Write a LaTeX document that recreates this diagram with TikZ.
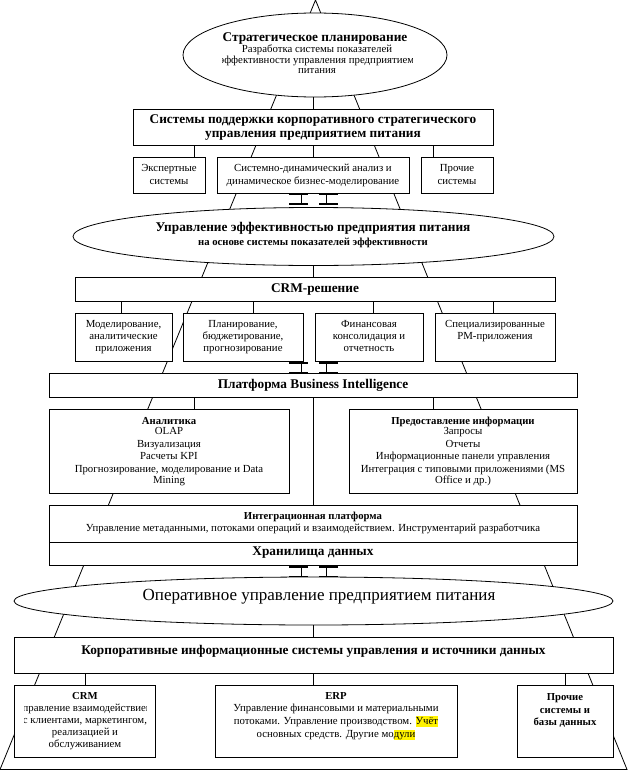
\documentclass[tikz,border=0pt]{standalone}
\usepackage{fontspec}
\setmainfont{Liberation Serif}
\usetikzlibrary{shapes.geometric}
\setlength{\fboxsep}{0pt}
\newcommand{\mybox}[5]{\node[box, minimum width={#4-#2}, minimum height={#5-#3}] (#1) at ({(#2+#4)/2},{(#3+#5)/2}) {};}
\newcommand{\mytext}[5]{\node[#2] (#1) at (#3,#4) {#5};}
\newcommand{\hlt}[1]{\colorbox{yellow}{\rule[-0.25em]{0pt}{0.95em}#1}}
\tikzset{
  ln/.style={line width=0.8pt},
  box/.style={ln, draw, fill=white, rectangle, inner sep=0pt},
  ell/.style={ln, draw, fill=white, ellipse, inner sep=0pt},
  tx/.style={inner sep=0pt, text height=0.7em, text depth=0.2em, font=\fontsize{10.8}{12}\selectfont},
  txb/.style={tx, font=\bfseries\fontsize{10.7}{12}\selectfont},
  txh/.style={tx, font=\bfseries\fontsize{13.3}{14}\selectfont},
  txl/.style={tx, font=\fontsize{17}{18}\selectfont},
  bar/.style={line width=1.3pt},
  jn/.pic={
    \draw[bar] (-24,0)--(-5,0) (-24,10)--(-5,10) (6,0)--(25,0) (6,10)--(25,10);
    \draw[ln] (-12,0)--(-12,10) (13,0)--(13,10);
  }
}
\begin{document}
\begin{tikzpicture}[x=1pt,y=-1pt]
\useasboundingbox (0,0) rectangle (627,771);
\fill[white] (0,0) rectangle (627,771);
% pyramid outline
\coordinate (apex) at (315.5,0);
\coordinate (bl) at (0,769.5);
\coordinate (br) at (627,769.5);
\draw[ln] (apex) -- (bl) -- (br) -- cycle;
% x positions of connectors
\coordinate (m) at (313.5,0);
\coordinate (xa) at (194,0);
\coordinate (xb) at (433,0);
\coordinate (xf1) at (121,0);
\coordinate (xf2) at (253,0);
\coordinate (xf3) at (373,0);
\coordinate (xf4) at (493,0);
\coordinate (xc1) at (85,0);
\coordinate (xc3) at (565,0);

% ---------- strategic level
\node[ell, minimum width=264, minimum height=84] (e1) at (315,55) {};
\mytext{e1a}{txh}{315}{39}{Стратегическое планирование}
\begin{scope}
\clip (222,43) rectangle (412,80);
\mytext{e1b}{tx}{317}{50}{Разработка системы показателей}
\mytext{e1c}{tx}{317}{61}{эффективности управления предприятием}
\mytext{e1d}{tx}{317}{71}{питания}
\end{scope}

\mybox{b1}{133}{109}{493}{145}
\mytext{b1a}{txh}{313}{121}{Системы поддержки корпоративного стратегического}
\mytext{b1b}{txh}{313}{135}{управления предприятием питания}
\draw[ln] (m |- e1.south) -- (m |- b1.north);

\mybox{s1}{133}{157}{205}{193}
\mytext{s1a}{tx}{169}{169}{Экспертные}
\mytext{s1b}{tx}{169}{182}{системы}
\mybox{s2}{217}{157}{409}{193}
\mytext{s2a}{tx}{313}{169}{Системно-динамический анализ и}
\mytext{s2b}{tx}{313}{182}{динамическое бизнес-моделирование}
\mybox{s3}{421}{157}{493}{193}
\mytext{s3a}{tx}{457}{169}{Прочие}
\mytext{s3b}{tx}{457}{182}{системы}
\draw[ln] (xa |- b1.south) -- (xa |- s1.north);
\draw[ln] (m |- b1.south) -- (m |- s2.north);
\draw[ln] (xb |- b1.south) -- (xb |- s3.north);

\pic at (313,194) {jn};

% ---------- performance management level
\node[ell, minimum width=481, minimum height=58] (e2) at (313.5,236.5) {};
\mytext{e2a}{txh}{313}{229}{Управление эффективностью предприятия питания}
\mytext{e2b}{txb}{313}{243}{на основе системы показателей эффективности}

\mybox{crm}{75}{277}{555}{301}
\mytext{crma}{txh}{315}{289.5}{CRM-решение}
\draw[ln] (m |- e2.south) -- (m |- crm.north);

\mybox{f1}{75}{313}{172}{361}
\mytext{f1a}{tx}{123.5}{325}{Моделирование,}
\mytext{f1b}{tx}{123.5}{337}{аналитические}
\mytext{f1c}{tx}{123.5}{349}{приложения}
\mybox{f2}{183}{313}{303}{361}
\mytext{f2a}{tx}{243}{325}{Планирование,}
\mytext{f2b}{tx}{243}{337}{бюджетирование,}
\mytext{f2c}{tx}{243}{349}{прогнозирование}
\mybox{f3}{315}{313}{423}{361}
\mytext{f3a}{tx}{369}{325}{Финансовая}
\mytext{f3b}{tx}{369}{337}{консолидация и}
\mytext{f3c}{tx}{369}{349}{отчетность}
\mybox{f4}{435}{313}{555}{361}
\mytext{f4a}{tx}{495}{325}{Специализированные}
\mytext{f4b}{tx}{495}{337}{PM-приложения}
\draw[ln] (xf1 |- crm.south) -- (xf1 |- f1.north);
\draw[ln] (xf2 |- crm.south) -- (xf2 |- f2.north);
\draw[ln] (xf3 |- crm.south) -- (xf3 |- f3.north);
\draw[ln] (xf4 |- crm.south) -- (xf4 |- f4.north);

\pic at (313,363) {jn};

% ---------- BI platform
\mybox{bi}{49}{373}{577}{397}
\mytext{bia}{txh}{313}{385.5}{Платформа Business Intelligence}

\mybox{an}{49}{409}{289}{493}
\mytext{ana}{txb}{169}{422}{Аналитика}
\mytext{anb}{tx}{169}{432}{OLAP}
\mytext{anc}{tx}{169}{444.5}{Визуализация}
\mytext{and}{tx}{169}{457}{Расчеты KPI}
\mytext{ane}{tx}{169}{469.5}{Прогнозирование, моделирование и Data}
\mytext{anf}{tx}{169}{481}{Mining}
\mybox{pi}{349}{409}{577}{493}
\mytext{pia}{txb}{463}{422}{Предоставление информации}
\mytext{pib}{tx}{463}{432}{Запросы}
\mytext{pic}{tx}{463}{444.5}{Отчеты}
\mytext{pid}{tx}{463}{457}{Информационные панели управления}
\mytext{pie}{tx}{463}{469.5}{Интеграция с типовыми приложениями (MS}
\mytext{pif}{tx}{463}{481}{Office и др.)}

\mybox{ip}{49}{505}{577}{542}
\mytext{ipa}{txb}{313}{517}{Интеграционная платформа}
\mytext{ipb}{tx}{313}{529}{Управление метаданными, потоками операций и взаимодействием. Инструментарий разработчика}
\mybox{dw}{49}{542}{577}{565}
\mytext{dwa}{txh}{313}{553}{Хранилища данных}

\draw[ln] (xa |- bi.south) -- (xa |- an.north);
\draw[ln] (xb |- bi.south) -- (xb |- pi.north);
\draw[ln] (m |- bi.south) -- (m |- ip.north);

\pic at (313,567) {jn};

% ---------- operational level
\node[ell, minimum width=599, minimum height=48] (e3) at (313.5,601) {};
\mytext{e3a}{txl}{319}{598}{Оперативное управление предприятием питания}

\mybox{kb}{14}{637}{613}{673}
\mytext{kba}{txh}{313.5}{652}{Корпоративные информационные системы управления и источники данных}
\draw[ln] (m |- e3.south) -- (m |- kb.north);

\mybox{cb}{14}{685}{155}{757}
\mytext{cba}{txb}{85}{697}{CRM}
\begin{scope}
\clip (24,700) rectangle (146,752);
\mytext{cbb}{tx}{85}{708.5}{управление взаимодействием}
\mytext{cbc}{tx}{85}{721}{с клиентами, маркетингом,}
\mytext{cbd}{tx}{85}{733}{реализацией и}
\mytext{cbe}{tx}{85}{745}{обслуживанием}
\end{scope}
\mybox{eb}{215}{685}{457}{757}
\mytext{eba}{txb}{336}{697}{ERP}
\mytext{ebb}{tx}{336}{708.5}{Управление финансовыми и материальными}
\mytext{ebc}{tx}{336}{721.5}{потоками. Управление производством. \hlt{Учёт}}
\mytext{ebd}{tx}{336}{735}{основных средств. Другие мо\hlt{дули}}
\mybox{ob}{517}{685}{613}{757}
\mytext{oba}{txb}{565}{698}{Прочие}
\mytext{obb}{txb}{565}{710.5}{системы и}
\mytext{obc}{txb}{565}{723}{базы данных}

\draw[ln] (xc1 |- kb.south) -- (xc1 |- cb.north);
\draw[ln] (m |- kb.south) -- (m |- eb.north);
\draw[ln] (xc3 |- kb.south) -- (xc3 |- ob.north);
\end{tikzpicture}
\end{document}
